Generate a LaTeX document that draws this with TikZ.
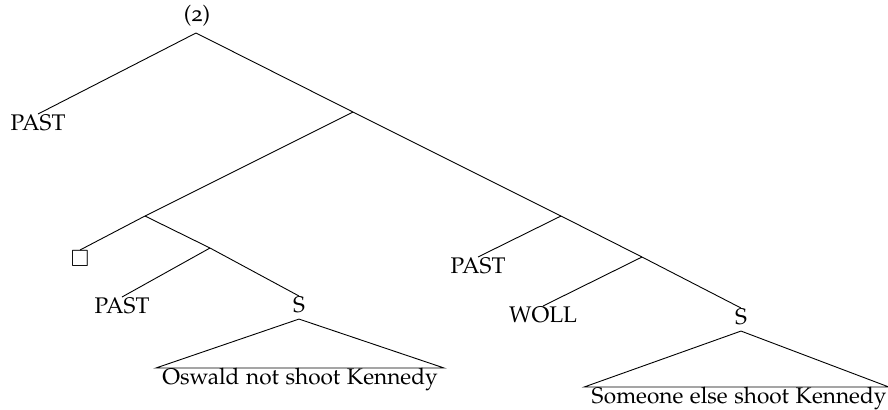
\documentclass[tikz,border=0pt]{standalone}
\usepackage[T1]{fontenc}
\usepackage[osf]{mathpazo}
\usepackage{amssymb}
\usepackage{tikz}
\usetikzlibrary{calc}

\tikzset{leaf/.style={anchor=north,inner sep=0pt,font=\fontsize{11.3}{14}\selectfont}}

\begin{document}
\begin{tikzpicture}[x=0.5pt,y=-0.5pt,line width=0.45pt]
  \useasboundingbox (0,0) rectangle (888,409);
  % inner nodes
  \coordinate (root) at (196,33);
  \coordinate (n1) at (353,112);
  \coordinate (nb) at (145,216);
  \coordinate (nc) at (210,248);
  \coordinate (n2) at (561,216);
  \coordinate (n3) at (642,257);
  \node[leaf,anchor=south] (num) at (197,27) {(2)};
  % leaves
  \node[leaf] (pastA) at (38,114) {PAST};
  \node[leaf] (box) at (80,250) {$\Box$};
  \node[leaf] (pastB) at (122,297) {PAST};
  \node[leaf] (sL) at (299,296) {S};
  \node[leaf] (pastC) at (478,257) {PAST};
  \node[leaf] (woll) at (543,306) {WOLL};
  \node[leaf] (sR) at (741,308) {S};
  \node[leaf] (txtL) at (300,368) {Oswald not shoot Kennedy};
  \node[leaf] (txtR) at (739,387) {Someone else shoot Kennedy};
  % branches
  \draw (pastA.north) -- (root) -- (n1) -- (n2) -- (n3) -- (sR.north);
  \draw (n1) -- (nb) -- (box.north);
  \draw (nb) -- (nc) -- (sL.north);
  \draw (nc) -- (pastB.north);
  \draw (n2) -- (pastC.north);
  \draw (n3) -- (woll.north);
  % triangles
  \draw ($(txtL.north west)+(-6,0)$) -- ($(sL.south)+(0,6)$) -- ($(txtL.north east)+(6,0)$) -- cycle;
  \draw ($(txtR.north west)+(-7,0)$) -- ($(sR.south)+(0,6)$) -- ($(txtR.north east)+(2,0)$) -- cycle;
\end{tikzpicture}
\end{document}
